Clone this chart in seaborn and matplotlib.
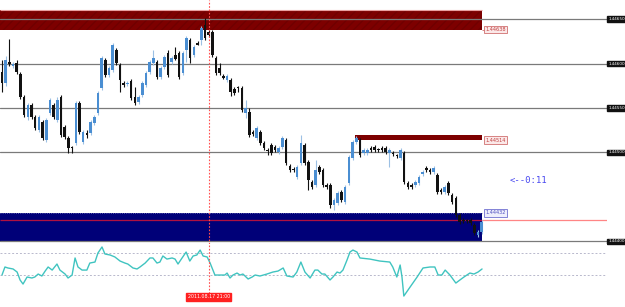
import numpy as np
import pandas as pd
import matplotlib
matplotlib.use("Agg")
import matplotlib.pyplot as plt
import seaborn as sns

# ---------------- data ----------------
opens = [1.44590,1.44578,1.44602,1.44597,1.44601,1.44588,1.44562,1.44540,1.44553,1.44540,
         1.44525,1.44534,1.44514,1.44544,1.44553,1.44536,1.44562,1.44529,1.44516,1.44505,
         1.44511,1.44556,1.44512,1.44522,1.44522,1.44533,1.44544,1.44572,1.44604,1.44587,
         1.44593,1.44615,1.44598,1.44578,1.44577,1.44580,1.44562,1.44557,1.44565,1.44576,
         1.44590,1.44601,1.44602,1.44585,1.44596,1.44612,1.44602,1.44610,1.44612,1.44589,
         1.44615,1.44626,1.44610,1.44623,1.44626,1.44643,1.44635,1.44635,1.44606,1.44595,
         1.44586,1.44581,1.44581,1.44571,1.44572,1.44572,1.44544,1.44545,1.44523,1.44516,
         1.44523,1.44511,1.44503,1.44508,1.44506,1.44501,1.44506,1.44514,1.44485,1.44481,
         1.44472,1.44488,1.44508,1.44489,1.44467,1.44463,1.44484,1.44480,1.44463,1.44463,
         1.44441,1.44443,1.44456,1.44444,1.44466,1.44494,1.44512,1.44514,1.44499,1.44499,
         1.44505,1.44506,1.44503,1.44505,1.44505,1.44499,1.44499,1.44496,1.44494,1.44499,
         1.44466,1.44463,1.44463,1.44466,1.44476,1.44483,1.44480,1.44478,1.44475,1.44458,
         1.44456,1.44466,1.44452,1.44449,1.44430,1.44424,1.44423,1.44424,1.44418,1.44407,
         1.44411]
highs = [1.44604,1.44608,1.44628,1.44602,1.44604,1.44590,1.44565,1.44556,1.44556,1.44542,
         1.44542,1.44536,1.44539,1.44561,1.44556,1.44562,1.44565,1.44531,1.44518,1.44507,
         1.44558,1.44558,1.44525,1.44525,1.44536,1.44542,1.44569,1.44608,1.44606,1.44597,
         1.44623,1.44617,1.44601,1.44580,1.44580,1.44583,1.44574,1.44565,1.44580,1.44592,
         1.44604,1.44615,1.44604,1.44597,1.44610,1.44615,1.44608,1.44619,1.44614,1.44614,
         1.44631,1.44629,1.44621,1.44625,1.44642,1.44651,1.44638,1.44638,1.44608,1.44601,
         1.44588,1.44588,1.44584,1.44574,1.44575,1.44575,1.44559,1.44550,1.44525,1.44530,
         1.44525,1.44513,1.44505,1.44511,1.44508,1.44507,1.44518,1.44516,1.44487,1.44484,
         1.44486,1.44520,1.44511,1.44492,1.44469,1.44492,1.44486,1.44483,1.44466,1.44466,
         1.44449,1.44457,1.44458,1.44463,1.44497,1.44514,1.44518,1.44516,1.44505,1.44505,
         1.44507,1.44508,1.44505,1.44507,1.44507,1.44505,1.44502,1.44498,1.44505,1.44502,
         1.44468,1.44466,1.44469,1.44475,1.44480,1.44485,1.44483,1.44485,1.44477,1.44460,
         1.44463,1.44468,1.44454,1.44451,1.44432,1.44426,1.44425,1.44426,1.44421,1.44413,
         1.44424]
lows = [1.44568,1.44575,1.44597,1.44595,1.44588,1.44560,1.44540,1.44536,1.44538,1.44525,
        1.44523,1.44514,1.44512,1.44542,1.44538,1.44534,1.44517,1.44515,1.44499,1.44499,
        1.44508,1.44521,1.44509,1.44516,1.44520,1.44531,1.44542,1.44570,1.44585,1.44585,
        1.44590,1.44598,1.44568,1.44574,1.44575,1.44559,1.44553,1.44554,1.44562,1.44574,
        1.44588,1.44598,1.44583,1.44583,1.44594,1.44585,1.44599,1.44604,1.44583,1.44587,
        1.44602,1.44601,1.44607,1.44621,1.44621,1.44626,1.44630,1.44607,1.44587,1.44587,
        1.44583,1.44579,1.44563,1.44565,1.44568,1.44545,1.44539,1.44517,1.44518,1.44514,
        1.44508,1.44503,1.44497,1.44497,1.44501,1.44498,1.44504,1.44486,1.44478,1.44478,
        1.44470,1.44486,1.44486,1.44458,1.44459,1.44461,1.44476,1.44461,1.44459,1.44438,
        1.44435,1.44441,1.44444,1.44442,1.44463,1.44492,1.44509,1.44495,1.44497,1.44497,
        1.44501,1.44501,1.44501,1.44501,1.44498,1.44484,1.44496,1.44494,1.44492,1.44465,
        1.44459,1.44459,1.44461,1.44463,1.44474,1.44478,1.44476,1.44476,1.44453,1.44453,
        1.44453,1.44452,1.44442,1.44427,1.44420,1.44421,1.44421,1.44418,1.44407,1.44405,
        1.44408]
closes = [1.44578,1.44604,1.44599,1.44599,1.44590,1.44562,1.44542,1.44553,1.44540,1.44527,
          1.44540,1.44516,1.44536,1.44559,1.44540,1.44559,1.44520,1.44517,1.44505,1.44505,
          1.44556,1.44523,1.44523,1.44520,1.44534,1.44540,1.44567,1.44606,1.44587,1.44595,
          1.44621,1.44601,1.44581,1.44576,1.44578,1.44561,1.44556,1.44562,1.44578,1.44589,
          1.44602,1.44606,1.44585,1.44595,1.44607,1.44587,1.44606,1.44605,1.44585,1.44612,
          1.44629,1.44606,1.44619,1.44621,1.44640,1.44629,1.44632,1.44610,1.44589,1.44589,
          1.44584,1.44586,1.44568,1.44567,1.44572,1.44548,1.44550,1.44520,1.44521,1.44527,
          1.44511,1.44505,1.44502,1.44499,1.44503,1.44505,1.44516,1.44488,1.44480,1.44480,
          1.44484,1.44511,1.44488,1.44469,1.44461,1.44480,1.44478,1.44463,1.44461,1.44441,
          1.44447,1.44454,1.44447,1.44461,1.44495,1.44512,1.44516,1.44497,1.44503,1.44503,
          1.44503,1.44503,1.44503,1.44503,1.44501,1.44503,1.44498,1.44496,1.44503,1.44467,
          1.44461,1.44461,1.44467,1.44472,1.44478,1.44480,1.44478,1.44483,1.44456,1.44456,
          1.44461,1.44454,1.44444,1.44430,1.44422,1.44423,1.44423,1.44421,1.44409,1.44411,
          1.44422]

grid_levels = [1.44650, 1.44600, 1.44550, 1.44500, 1.44400]
grid_labels = ["1.44650", "1.44600", "1.44550", "1.44500", "1.44400"]

supply_zone = (1.44638, 1.44660)       # big dark-red zone
supply_zone2 = (1.44514, 1.44520)      # thin dark-red zone
demand_zone = (1.44399, 1.44432)       # navy zone
zone_labels = ["1.44638", "1.44514", "1.44432"]
bid_level = 1.44424
cursor_bar = 56
cursor_label = "2011.08.17 21:00"
countdown = "<--0:11"

cci_x = [0.0,0.8,1.6,3.0,4.1,4.9,5.7,6.8,8.1,8.9,9.8,10.8,11.7,12.5,13.6,14.9,15.7,17.1,17.9,19.0,
         19.8,20.6,21.7,23.0,23.8,25.2,26.0,27.1,27.9,29.3,30.6,32.0,33.3,34.1,35.5,36.6,37.4,38.8,
         40.1,40.9,42.0,42.8,43.6,44.7,46.1,46.9,47.7,48.8,49.9,50.9,51.8,52.8,53.7,54.5,55.6,56.4,
         57.7,59.1,60.4,61.0,61.8,62.6,63.7,64.5,65.3,66.7,67.8,68.6,69.9,71.8,73.4,74.8,76.2,77.2,
         78.9,79.9,81.0,82.1,83.5,84.8,85.6,86.7,87.5,88.9,89.7,90.8,91.6,92.4,93.5,94.3,95.1,96.2,
         97.0,99.7,102.4,105.1,105.9,107.0,107.9,108.4,108.9,110.6,112.5,114.1,116.0,117.3,118.2,
         119.2,120.1,121.4,123.0,124.1,125.2,126.8,127.9,129.0,130.1]
cci_v = [-100,-27,-36,-45,-73,-145,-182,-118,-127,-118,-91,-109,-64,-27,-55,0,-55,-91,-127,-100,
         55,-27,-55,-55,9,18,100,155,91,82,64,27,9,0,-36,-45,-27,9,
         55,55,9,18,73,45,55,45,0,55,109,27,73,82,127,73,64,9,
         -100,-100,-100,-82,-127,-100,-82,-100,-91,-136,-118,-100,-109,-91,-73,-64,-36,-109,
         -118,-73,18,-73,-127,-55,-55,-91,-91,-145,-118,-73,-82,-55,36,109,127,109,
         55,45,27,18,-27,-118,-9,-118,-291,-209,-118,-36,-27,-27,-100,
         -100,-55,-100,-173,-145,-118,-82,-91,-73,-45]
cci_levels = [100, -100]

# ---------------- figure ----------------
sns.set_style("white")
W, H = 625, 307
fig = plt.figure(figsize=(W / 100, H / 100), dpi=100, facecolor="white")
ax = fig.add_axes([0, 1 - 244 / H, 607 / W, 244 / H])
ax2 = fig.add_axes([0, 7 / H, 607 / W, 56 / H])
for a in (ax, ax2):
    a.set_facecolor("white")
    for s in a.spines.values():
        s.set_visible(False)
    a.set_xticks([])
    a.set_yticks([])

n = len(opens)
idx = np.arange(n)
o = np.array(opens); c = np.array(closes); h = np.array(highs); l = np.array(lows)
bull = c > o

xmin, xmax = -0.54, 163.96
ax.set_xlim(xmin, xmax)
ax.set_ylim(1.443971, 1.446714)
ax2.set_xlim(xmin, xmax)
ax2.set_ylim(-327, 182)

last = n - 1 + 0.1
# zones
ax.fill_between([xmin, last], supply_zone[0], supply_zone[1], color="#7d0000",
                hatch="////", edgecolor="#700000", linewidth=0, zorder=1)
ax.hlines(supply_zone[1], xmin, last, color="#e8a0a0", lw=0.8, zorder=1.5)
ax.fill_between([95.7, last], supply_zone2[0], supply_zone2[1], color="#7d0000",
                linewidth=0, zorder=1)
ax.fill_between([xmin, last], demand_zone[0], demand_zone[1], color="#000078",
                linewidth=0, zorder=1)
ax.hlines(demand_zone[1], xmin, last, color="#8080c0", lw=0.6, linestyles=":", zorder=1.5)

# grid lines
for lv in grid_levels:
    ax.axhline(lv, color="#7a7a7a", lw=0.9, zorder=2)
# bid line
ax.hlines(bid_level, xmin, last, color="#b01040", lw=0.9, zorder=2.5)
ax.hlines(bid_level, last, xmax, color="#ff8585", lw=0.9, zorder=2.5)

# candles
wick_col = np.where(bull, "#9cc0e4", "#111111")
body_col = np.where(bull, "#4a8ed2", "#111111")
ax.vlines(idx, l, h, colors=wick_col, lw=0.8, zorder=3)
body_h = np.maximum(np.abs(c - o), 0.000012)
ax.bar(idx, body_h, bottom=np.minimum(o, c), width=0.7, color=body_col,
       linewidth=0, zorder=4)

# cursor line
for a in (ax, ax2):
    a.axvline(cursor_bar, color="#ff5050", lw=0.8, ls=(0, (1.5, 1.5)), zorder=5)

# right price labels
for lv, lab in zip(grid_levels, grid_labels):
    ax.text(1.002, lv, lab, transform=ax.get_yaxis_transform(), ha="left", va="center",
            fontsize=3.0, color="white", family="DejaVu Sans",
            bbox=dict(boxstyle="square,pad=0.2", fc="#111111", ec="#111111"), clip_on=False)

# zone labels
zl_x = 131.0
ax.hlines(supply_zone[0], last, zl_x, color="#d07070", lw=0.6)
ax.text(zl_x, supply_zone[0], zone_labels[0], ha="left", va="center", fontsize=3.6,
        color="#c04040", bbox=dict(boxstyle="square,pad=0.25", fc="#fbe8e8", ec="#d07070", lw=0.6))
ax.text(zl_x, supply_zone2[0], zone_labels[1], ha="left", va="center", fontsize=3.6,
        color="#c04040", bbox=dict(boxstyle="square,pad=0.25", fc="#fbe8e8", ec="#d07070", lw=0.6))
ax.text(zl_x, demand_zone[1], zone_labels[2], ha="left", va="center", fontsize=3.6,
        color="#5050c0", bbox=dict(boxstyle="square,pad=0.25", fc="#eeeefc", ec="#7070d0", lw=0.6))

# countdown text
ax.text(137.7, 1.44468, countdown, ha="left", va="center", fontsize=6.5,
        color="#4848f0", family="DejaVu Sans Mono")

# indicator
for lv in cci_levels:
    ax2.axhline(lv, color="#b8b8cc", lw=0.7, ls=(0, (2, 2)), zorder=1)
df = pd.DataFrame({"bar": cci_x, "cci": cci_v})
sns.lineplot(data=df, x="bar", y="cci", ax=ax2, color="#40c4c0", lw=1.0, zorder=3)
ax2.set_xlabel(""); ax2.set_ylabel("")
ax2.set_xticks([]); ax2.set_yticks([])

# cursor date label at bottom
xfig = ax.transData.transform((cursor_bar, 0))[0] / fig.dpi / (W / 100)
fig.text(xfig, 10 / H, cursor_label, ha="center", va="center", fontsize=3.4, color="white",
         bbox=dict(boxstyle="square,pad=0.3", fc="#ff2020", ec="#ff2020"), zorder=10)

fig.savefig("out.png", dpi=100, facecolor="white")
